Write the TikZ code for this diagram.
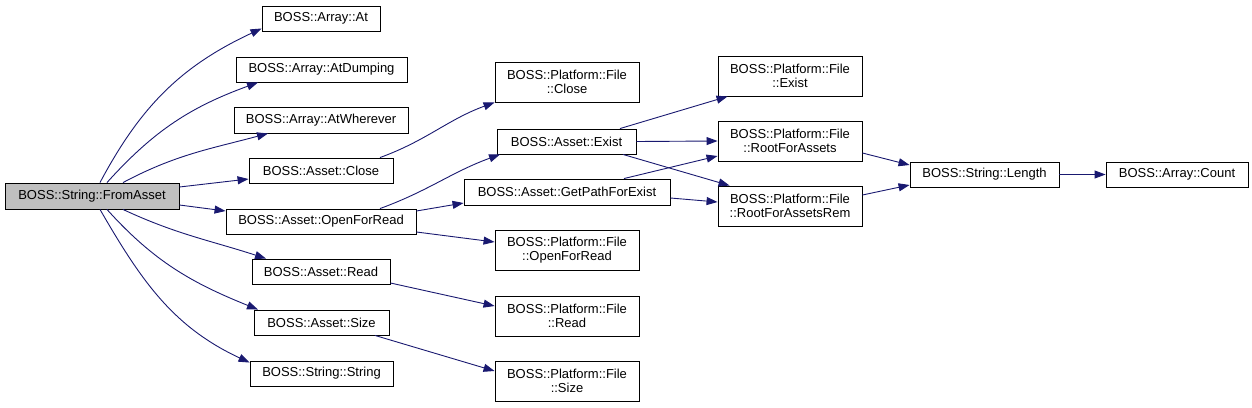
\documentclass[tikz,border=0pt]{standalone}
\usepackage{fontspec}
\setmainfont{Liberation Sans}
\usetikzlibrary{arrows.meta}
\definecolor{edgeblue}{HTML}{191970}

\begin{document}
\begin{tikzpicture}[x=1pt, y=-1pt,
    fn/.style={draw=black, line width=0.9pt, inner sep=0pt, align=center,
      font=\fontsize{13}{13.5}\selectfont, minimum height=25},
    fn2/.style={fn, minimum height=40},
    call/.style={draw=edgeblue, line width=0.9pt,
      -{Triangle[length=11pt,width=8pt]}}]
    \useasboundingbox (0,0) rectangle (1252,407);
    % Racine
    \node[fn, fill=black!25, minimum width=174, minimum height=26] (fromasset) at (92,196) {BOSS::String::FromAsset};
    % Premier niveau
    \node[fn, minimum width=118] (at) at (321,18.5) {BOSS::Array::At};
    \node[fn, minimum width=171] (atdumping) at (321.5,69.5) {BOSS::Array::AtDumping};
    \node[fn, minimum width=174, minimum height=26] (atwherever) at (321,120) {BOSS::Array::AtWherever};
    \node[fn, minimum width=144] (close) at (321,170.5) {BOSS::Asset::Close};
    \node[fn, minimum width=190] (openforread) at (321,221.5) {BOSS::Asset::OpenForRead};
    \node[fn, minimum width=138] (read) at (321,271.5) {BOSS::Asset::Read};
    \node[fn, minimum width=135] (size) at (321.5,322.5) {BOSS::Asset::Size};
    \node[fn, minimum width=143] (string) at (321.5,373.5) {BOSS::String::String};
    % Deuxieme niveau
    \node[fn2, minimum width=144] (fclose) at (567,82) {BOSS::Platform::File\\::Close};
    \node[fn, minimum width=139] (exist) at (566.5,141.5) {BOSS::Asset::Exist};
    \node[fn, minimum width=206, minimum height=26] (getpath) at (567,192) {BOSS::Asset::GetPathForExist};
    \node[fn2, minimum width=144] (fopen) at (567,250) {BOSS::Platform::File\\::OpenForRead};
    \node[fn2, minimum width=144] (fread) at (567,316) {BOSS::Platform::File\\::Read};
    \node[fn2, minimum width=144] (fsize) at (567,381) {BOSS::Platform::File\\::Size};
    % Troisieme niveau
    \node[fn2, minimum width=144] (fexist) at (790,76) {BOSS::Platform::File\\::Exist};
    \node[fn2, minimum width=144] (root) at (790,141) {BOSS::Platform::File\\::RootForAssets};
    \node[fn2, minimum width=144] (rootrem) at (790,206) {BOSS::Platform::File\\::RootForAssetsRem};
    \node[fn, minimum width=149] (length) at (984.5,174.5) {BOSS::String::Length};
    \node[fn, minimum width=142] (count) at (1177,174.5) {BOSS::Array::Count};
    % Appels depuis FromAsset
    \draw[call] ([xshift=8]fromasset.north) to[out=62, in=205] ([yshift=-10]at.west);
    \draw[call] ([xshift=15]fromasset.north) to[out=48, in=200] ([xshift=-63.5]atdumping.south);
    \draw[call] ([xshift=31]fromasset.north) to[out=28, in=195] ([xshift=-53]atwherever.south);
    \draw[call] ([yshift=9]fromasset.east) -- ([yshift=-8.5]close.west);
    \draw[call] ([yshift=-9]fromasset.east) -- ([yshift=10.5]openforread.west);
    \draw[call] ([xshift=31]fromasset.south) to[out=-25, in=162] ([xshift=-55]read.north);
    \draw[call] ([xshift=15]fromasset.south) to[out=-48, in=158] ([xshift=-63.5]size.north);
    \draw[call] ([xshift=8]fromasset.south) to[out=-60, in=155] ([yshift=-2]string.north west);
    % Appels du premier niveau
    \draw[call] ([xshift=59]close.north) to[out=20, in=200] (fclose.south west);
    \draw[call] ([xshift=59]openforread.north) to[out=20, in=200] ([xshift=-66.5]exist.south);
    \draw[call] ([yshift=10.5]openforread.east) -- ([yshift=-11]getpath.west);
    \draw[call] ([yshift=-10.5]openforread.east) -- ([yshift=8]fopen.west);
    \draw[call] ([yshift=-11.5]read.east) -- ([yshift=10]fread.west);
    \draw[call] ([xshift=53.5]size.south) -- ([yshift=10]fsize.west);
    % Appels du deuxieme niveau
    \draw[call] ([xshift=53.5]exist.north) -- ([xshift=10]fexist.south west);
    \draw[call] (exist.east) -- (root.west);
    \draw[call] ([xshift=56.5]exist.south) -- ([xshift=12]rootrem.north west);
    \draw[call] ([xshift=57]getpath.north) -- ([yshift=-15]root.west);
    \draw[call] ([yshift=-6]getpath.east) -- ([yshift=4]rootrem.west);
    % Appels du troisieme niveau
    \draw[call] ([yshift=-12]root.east) -- ([yshift=9.5]length.west);
    \draw[call] ([yshift=11]rootrem.east) -- ([yshift=-10.5]length.west);
    \draw[call] (length.east) -- (count.west);
\end{tikzpicture}
\end{document}
